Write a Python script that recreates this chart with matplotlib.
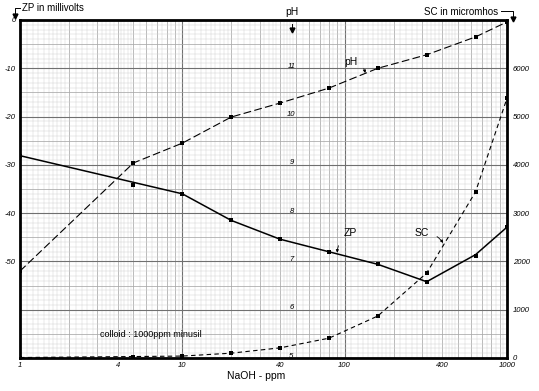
import numpy as np
import matplotlib
matplotlib.use("Agg")
import matplotlib.pyplot as plt
from matplotlib.lines import Line2D

# ---- data ----
naoh = [1, 5, 10, 20, 40, 80, 160, 320, 640, 1000]
ph = [6.80, 9.04, 9.45, 9.99, 10.28, 10.59, 11.00, 11.28, 11.65, 11.96]
zp = [-28.1, -34.2, -36.0, -41.5, -45.4, -48.0, -50.6, -54.2, -48.8, -42.9]
sc = [10, 30, 40, 100, 210, 410, 870, 1760, 3440, 5380]
# smooth ZP curve drawn on the chart (passes near, not through, every point)
zp_curve_x = [1, 10, 20, 40, 80, 160, 320, 640, 1000]
zp_curve = [-28.1, -36.0, -41.5, -45.4, -48.0, -50.6, -54.2, -48.6, -42.9]

x_ticks = [1, 4, 10, 40, 100, 400, 1000]
zp_ticks = [0, -10, -20, -30, -40, -50]
sc_ticks = [0, 1000, 2000, 3000, 4000, 5000, 6000]
ph_ticks = [5, 6, 7, 8, 9, 10, 11]

plt.rcParams['font.family'] = ['Liberation Sans', 'DejaVu Sans']

W, H = 539, 391
fig = plt.figure(figsize=(W / 100, H / 100), dpi=100)
fig.patch.set_facecolor('white')
L, R, T, B = 20, 507, 20, 358
ax = fig.add_axes([L / W, 1 - B / H, (R - L) / W, (B - T) / H])
ax.set_xscale('log')
ax.set_xlim(1, 1000)
ax.set_ylim(-70, 0)
ax.set_facecolor('white')

# ---- graph-paper grid ----
c_fine, c_mid, c_major = '#d2d2d2', '#a8a8a8', '#707070'
for dec in [1, 10, 100]:
    fine = list(np.arange(1.1, 2.0, 0.1)) + list(np.arange(2.2, 5.0, 0.2)) + list(np.arange(5.5, 10.0, 0.5))
    for f in fine:
        if abs(f - round(f)) > 1e-6:
            ax.axvline(f * dec, color=c_fine, lw=0.35, zorder=0)
    for f in range(2, 10):
        ax.axvline(f * dec, color=c_mid, lw=0.55, zorder=0)
for v in [10, 100]:
    ax.axvline(v, color=c_major, lw=0.8, zorder=0)
for yv in range(-70, 1):
    if yv % 10 == 0:
        ax.axhline(yv, color=c_major, lw=0.8, zorder=0)
    elif yv % 5 == 0:
        ax.axhline(yv, color=c_mid, lw=0.55, zorder=0)
    else:
        ax.axhline(yv, color=c_fine, lw=0.35, zorder=0)

for s in ax.spines.values():
    s.set_linewidth(2.0)
    s.set_color('black')

ax.set_xticks(x_ticks)
ax.set_xticklabels([str(v) for v in x_ticks], fontsize=5.5, style='italic')
ax.xaxis.set_minor_locator(matplotlib.ticker.NullLocator())
ax.set_yticks(zp_ticks)
ax.set_yticklabels([str(v) for v in zp_ticks], fontsize=5.5, style='italic')
ax.tick_params(axis='both', length=0, pad=3)

mk = dict(linestyle='none', marker='s', ms=2.2, mew=0, color='black', zorder=4)

# ---- ZP (main axis) ----
ax.plot(zp_curve_x, zp_curve, color='black', lw=1.1, zorder=3)
ax.plot(naoh, zp, **mk)

# ---- SC axis ----
ax2 = ax.twinx()
ax2.set_ylim(0, 7000)
ax2.set_xlim(1, 1000)
ax2.set_yticks(sc_ticks)
ax2.set_yticklabels([str(v) for v in sc_ticks], fontsize=5.5, style='italic')
ax2.tick_params(axis='y', length=0, pad=4)
for s in ax2.spines.values():
    s.set_visible(False)
ax2.plot(naoh, sc, color='black', lw=0.8, dashes=(4, 3), zorder=3)
ax2.plot(naoh, sc, **mk)

# ---- pH axis ----
ax3 = ax.twinx()
ax3.set_ylim(5, 12)
ax3.set_xlim(1, 1000)
ax3.set_yticks([])
for s in ax3.spines.values():
    s.set_visible(False)
ax3.plot(naoh, ph, color='black', lw=0.8, dashes=(7, 3), zorder=3)
ax3.plot(naoh, ph, **mk)
for p in ph_ticks:
    ax3.text(47, p + 0.04, str(p), fontsize=5.5, style='italic', ha='center', va='center')

# ---- annotations ----
arrow = dict(arrowstyle='-|>', color='black', lw=0.6, mutation_scale=4, shrinkA=4, shrinkB=0)
ax3.annotate('pH', xy=(134, 10.9), xytext=(109, 11.13), fontsize=7.5, ha='center', va='center',
             arrowprops=dict(arrow, connectionstyle='arc3,rad=-0.4'))
ax.annotate('ZP', xy=(90, -48.2), xytext=(108, -44.1), fontsize=7.5, ha='center', va='center',
            arrowprops=dict(arrow, connectionstyle='arc3,rad=0.3'))
ax2.annotate('SC', xy=(404, 2381), xytext=(300, 2588), fontsize=7.5, ha='center', va='center',
             arrowprops=dict(arrow, connectionstyle='arc3,rad=-0.3'))
ax.text(3.1, -65.2, 'colloid : 1000ppm minusil', fontsize=6.5, ha='left', va='center')

# ---- outer labels ----
def fx(px):
    return px / W

def fy(py):
    return 1 - py / H

fig.text(fx(22), fy(8), 'ZP in millivolts', fontsize=7, ha='left', va='center')
fig.add_artist(Line2D([fx(20), fx(15), fx(15)], [fy(8), fy(8), fy(14)], color='black', lw=0.7))
fig.add_artist(Line2D([fx(15)], [fy(16)], marker='v', ms=3.5, color='black'))

fig.text(fx(498), fy(12), 'SC in micromhos', fontsize=7, ha='right', va='center')
fig.add_artist(Line2D([fx(501), fx(513), fx(513)], [fy(11), fy(11), fy(17)], color='black', lw=0.7))
fig.add_artist(Line2D([fx(513)], [fy(19)], marker='v', ms=3.5, color='black'))

fig.text(fx(292), fy(12), 'pH', fontsize=7.5, ha='center', va='center')
fig.add_artist(Line2D([fx(292), fx(292)], [fy(24), fy(28)], color='black', lw=0.7))
fig.add_artist(Line2D([fx(292)], [fy(30)], marker='v', ms=3.5, color='black'))

fig.text(fx(256), fy(376), 'NaOH - ppm', fontsize=7.5, ha='center', va='center')

fig.savefig('out.png', dpi=100, facecolor='white')
